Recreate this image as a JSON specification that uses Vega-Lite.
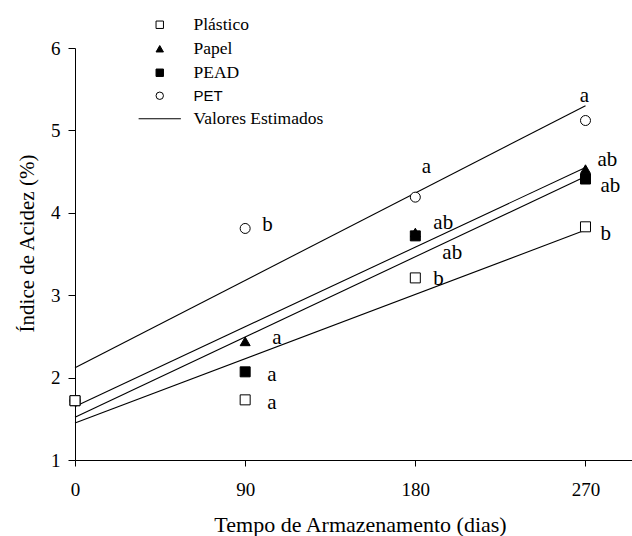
{
  "$schema": "https://vega.github.io/schema/vega-lite/v6.json",
  "width": 557,
  "height": 412,
  "autosize": "none",
  "padding": {"left": 75, "top": 48, "right": 0, "bottom": 76},
  "background": "white",
  "config": {
    "view": {"stroke": null},
    "font": "Liberation Serif",
    "axis": {
      "grid": false,
      "domainColor": "black",
      "domainWidth": 1,
      "tickColor": "black",
      "tickWidth": 1,
      "labelColor": "black",
      "labelFont": "Liberation Serif",
      "labelFontSize": 19,
      "titleColor": "black",
      "titleFont": "Liberation Serif",
      "titleFontWeight": "normal",
      "labelFlush": false,
      "labelOverlap": false
    },
    "legend": {
      "labelFont": "Liberation Serif",
      "labelFontSize": 17.5,
      "labelColor": "black"
    }
  },
  "datasets": {
    "observado": [
      {"serie": "Papel", "dia": 0, "valor": 1.72, "letra": ""},
      {"serie": "Papel", "dia": 90, "valor": 2.44, "letra": "a"},
      {"serie": "Papel", "dia": 180, "valor": 3.76, "letra": "ab"},
      {"serie": "Papel", "dia": 270, "valor": 4.53, "letra": "ab"},
      {"serie": "PEAD", "dia": 0, "valor": 1.72, "letra": ""},
      {"serie": "PEAD", "dia": 90, "valor": 2.07, "letra": "a"},
      {"serie": "PEAD", "dia": 180, "valor": 3.72, "letra": "ab"},
      {"serie": "PEAD", "dia": 270, "valor": 4.41, "letra": "ab"},
      {"serie": "PET", "dia": 0, "valor": 1.72, "letra": ""},
      {"serie": "PET", "dia": 90, "valor": 3.81, "letra": "b"},
      {"serie": "PET", "dia": 180, "valor": 4.19, "letra": "a"},
      {"serie": "PET", "dia": 270, "valor": 5.12, "letra": "a"},
      {"serie": "Plástico", "dia": 0, "valor": 1.72, "letra": ""},
      {"serie": "Plástico", "dia": 90, "valor": 1.73, "letra": "a"},
      {"serie": "Plástico", "dia": 180, "valor": 3.21, "letra": "b"},
      {"serie": "Plástico", "dia": 270, "valor": 3.83, "letra": "b"}
    ],
    "estimado": [
      {"serie": "PET", "dia": 0, "valor": 2.12},
      {"serie": "PET", "dia": 270, "valor": 5.30},
      {"serie": "Papel", "dia": 0, "valor": 1.65},
      {"serie": "Papel", "dia": 270, "valor": 4.55},
      {"serie": "PEAD", "dia": 0, "valor": 1.52},
      {"serie": "PEAD", "dia": 270, "valor": 4.44},
      {"serie": "Plástico", "dia": 0, "valor": 1.45},
      {"serie": "Plástico", "dia": 270, "valor": 3.79}
    ]
  },
  "encoding": {
    "x": {
      "field": "dia",
      "type": "quantitative",
      "scale": {"domain": [0, 294.6], "nice": false, "zero": false},
      "axis": {
        "values": [0, 90, 180, 270],
        "title": "Tempo de Armazenamento (dias)",
        "tickSize": 6,
        "labelPadding": 14,
        "titleFontSize": 22,
        "titleX": 285,
        "titleY": 71.5,
        "titleAlign": "center",
        "titleBaseline": "alphabetic"
      }
    },
    "y": {
      "field": "valor",
      "type": "quantitative",
      "scale": {"domain": [1, 6], "nice": false, "zero": false},
      "axis": {
        "values": [1, 2, 3, 4, 5, 6],
        "title": "Índice de Acidez (%)",
        "tickSize": 7,
        "labelPadding": 8,
        "titleFontSize": 21,
        "titleAngle": -90,
        "titleX": -48,
        "titleY": 195,
        "titleAlign": "center",
        "titleBaseline": "middle"
      }
    }
  },
  "layer": [
    {
      "data": {"name": "estimado"},
      "mark": {"type": "line", "color": "black", "strokeWidth": 1.1},
      "encoding": {"detail": {"field": "serie"}}
    },
    {
      "data": {"name": "observado"},
      "mark": {"type": "point", "filled": true, "stroke": "black", "strokeWidth": 1, "size": 100, "opacity": 1},
      "encoding": {
        "shape": {
          "field": "serie",
          "type": "nominal",
          "sort": null,
          "scale": {
            "domain": ["Plástico", "Papel", "PEAD", "PET", "Valores Estimados"],
            "range": ["square", "triangle-up", "square", "circle", "M-5.7,0H5.7"]
          },
          "legend": {
            "title": null,
            "orient": "none",
            "legendX": 76,
            "legendY": -32,
            "padding": 0,
            "symbolSize": 55,
            "labelFont": "Liberation Serif",
            "labelFontSize": 17.5,
            "labelOffset": 25,
            "labelLimit": 0,
            "rowPadding": 5,
            "encoding": {
              "symbols": {"stroke": {"value": "black"}, "strokeWidth": {"value": 1}},
              "labels": {
                "font": {"value": {"expr": "datum.label == 'PET' ? 'Liberation Sans' : 'Liberation Serif'"}},
                "fontSize": {"value": {"expr": "datum.label == 'PET' ? 15 : 17.5"}}
              }
            }
          }
        },
        "fill": {
          "field": "serie",
          "type": "nominal",
          "sort": null,
          "scale": {
            "domain": ["Plástico", "Papel", "PEAD", "PET", "Valores Estimados"],
            "range": ["white", "black", "black", "white", "white"]
          },
          "legend": {
            "title": null,
            "orient": "none",
            "legendX": 76,
            "legendY": -32,
            "padding": 0,
            "symbolSize": 55,
            "labelFont": "Liberation Serif",
            "labelFontSize": 17.5,
            "labelOffset": 25,
            "labelLimit": 0,
            "rowPadding": 5,
            "encoding": {
              "symbols": {"stroke": {"value": "black"}, "strokeWidth": {"value": 1}},
              "labels": {
                "font": {"value": {"expr": "datum.label == 'PET' ? 'Liberation Sans' : 'Liberation Serif'"}},
                "fontSize": {"value": {"expr": "datum.label == 'PET' ? 15 : 17.5"}}
              }
            }
          }
        }
      }
    },
    {
      "data": {"name": "observado"},
      "transform": [{"filter": "datum.dia == 90 && (datum.serie == 'PEAD' || datum.serie == 'Plástico')"}],
      "mark": {"type": "text", "align": "left", "baseline": "alphabetic", "dx": 22, "dy": 9, "fontSize": 21, "font": "Liberation Serif", "color": "black"},
      "encoding": {"text": {"field": "letra"}}
    },
    {
      "data": {"name": "observado"},
      "transform": [{"filter": "datum.dia == 180 && datum.serie == 'Plástico'"}],
      "mark": {"type": "text", "align": "left", "baseline": "alphabetic", "dx": 18, "dy": 7, "fontSize": 21, "font": "Liberation Serif", "color": "black"},
      "encoding": {"text": {"field": "letra"}}
    },
    {
      "data": {"name": "observado"},
      "transform": [{"filter": "datum.dia == 270 && (datum.serie == 'Plástico' || datum.serie == 'PEAD')"}],
      "mark": {"type": "text", "align": "left", "baseline": "alphabetic", "dx": 15, "dy": 13, "fontSize": 21, "font": "Liberation Serif", "color": "black"},
      "encoding": {"text": {"field": "letra"}}
    },
    {
      "data": {"name": "observado"},
      "transform": [{"filter": "datum.serie == 'Papel' && datum.dia == 180"}],
      "mark": {"type": "text", "align": "left", "baseline": "alphabetic", "dx": 18, "dy": -4, "fontSize": 21, "font": "Liberation Serif", "color": "black"},
      "encoding": {"text": {"field": "letra"}}
    },
    {
      "data": {"name": "observado"},
      "transform": [{"filter": "datum.serie == 'Papel' && datum.dia == 270"}],
      "mark": {"type": "text", "align": "left", "baseline": "alphabetic", "dx": 12, "dy": -3, "fontSize": 21, "font": "Liberation Serif", "color": "black"},
      "encoding": {"text": {"field": "letra"}}
    },
    {
      "data": {"name": "observado"},
      "transform": [{"filter": "datum.dia == 90 && datum.serie == 'PET'"}],
      "mark": {"type": "text", "align": "left", "baseline": "alphabetic", "dx": 17, "dy": 3, "fontSize": 21, "font": "Liberation Serif", "color": "black"},
      "encoding": {"text": {"field": "letra"}}
    },
    {
      "data": {"name": "observado"},
      "transform": [{"filter": "datum.dia == 90 && datum.serie == 'Papel'"}],
      "mark": {"type": "text", "align": "left", "baseline": "alphabetic", "dx": 27, "dy": 3, "fontSize": 21, "font": "Liberation Serif", "color": "black"},
      "encoding": {"text": {"field": "letra"}}
    },
    {
      "data": {"name": "observado"},
      "transform": [{"filter": "datum.dia == 180 && datum.serie == 'PEAD'"}],
      "mark": {"type": "text", "align": "left", "baseline": "alphabetic", "dx": 27, "dy": 23, "fontSize": 21, "font": "Liberation Serif", "color": "black"},
      "encoding": {"text": {"field": "letra"}}
    },
    {
      "data": {"name": "observado"},
      "transform": [{"filter": "datum.dia == 180 && datum.serie == 'PET'"}],
      "mark": {"type": "text", "align": "center", "baseline": "alphabetic", "dx": 11, "dy": -24, "fontSize": 21, "font": "Liberation Serif", "color": "black"},
      "encoding": {"text": {"field": "letra"}}
    },
    {
      "data": {"name": "observado"},
      "transform": [{"filter": "datum.dia == 270 && datum.serie == 'PET'"}],
      "mark": {"type": "text", "align": "center", "baseline": "alphabetic", "dx": -1, "dy": -19, "fontSize": 21, "font": "Liberation Serif", "color": "black"},
      "encoding": {"text": {"field": "letra"}}
    }
  ]
}
